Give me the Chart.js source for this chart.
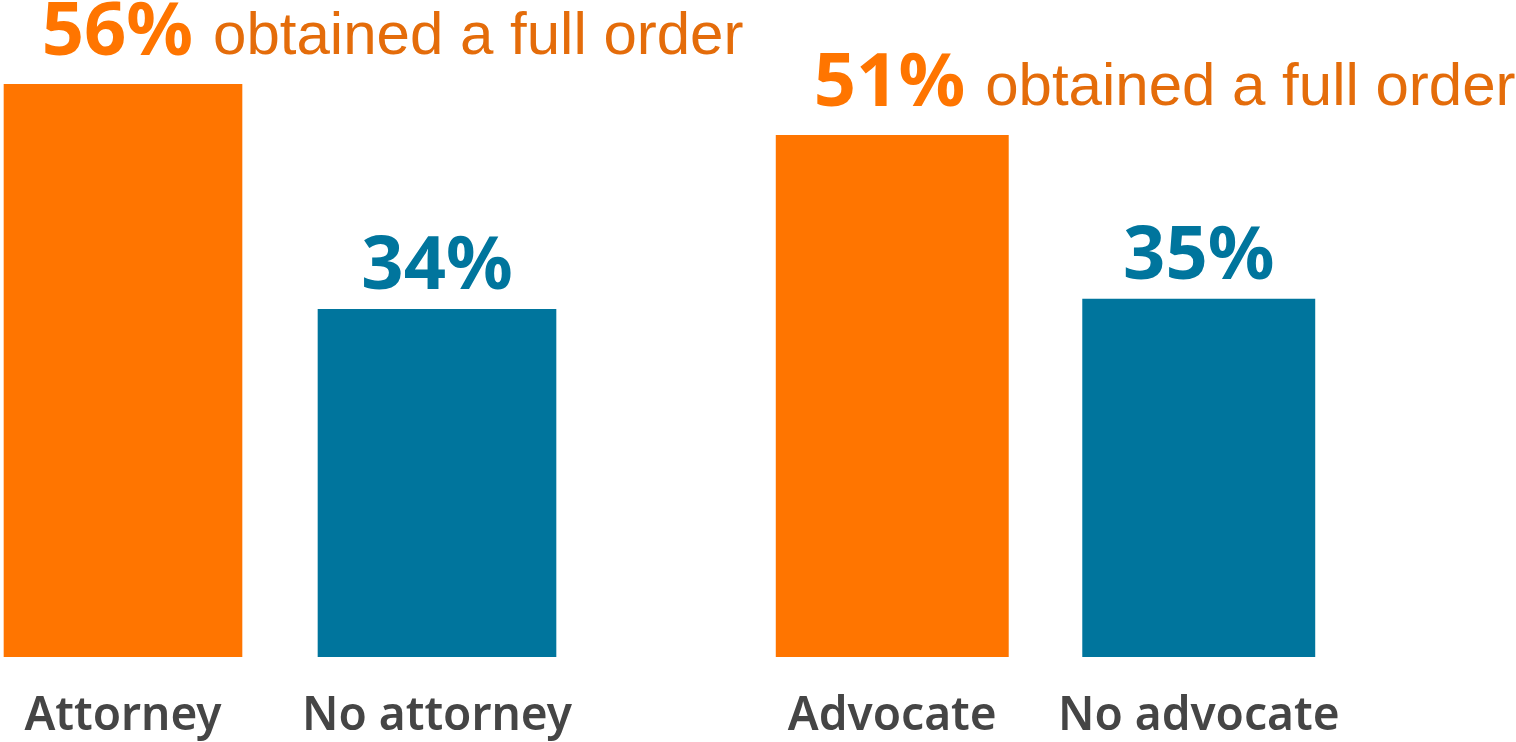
<!DOCTYPE html>
<html>
<head>
<meta charset="utf-8">
<script src="https://cdn.jsdelivr.net/npm/chart.js@4.4.1/dist/chart.umd.min.js"></script>
<style>
  html, body { margin: 0; padding: 0; background: #fff; overflow: hidden; }
  #wrap { position: relative; width: 1516px; height: 742px; overflow: hidden; }
  .panel { position: absolute; top: 0; }
  #left { left: -34px; }
  #right { left: 739px; }
</style>
</head>
<body>
<div id="wrap">
  <!-- canvases are a bit taller than the page so the baseline sits where the reference has it -->
  <div class="panel" id="left"><canvas id="chart0" width="800" height="777"></canvas></div>
  <div class="panel" id="right"><canvas id="chart1" width="777" height="777"></canvas></div>
</div>
<script>
// data
const attorneyLabels = ['Attorney', 'No attorney'];
const attorneyValues = [56, 34];
const advocateLabels = ['Advocate', 'No advocate'];
const advocateValues = [51, 35];
const noteText = 'obtained a full order';

const ORANGE = '#FF7500';
const NOTE_ORANGE = '#E46C0A';
const BLUE = '#00759D';
const GREY = '#454545';

// value labels on top of bars, first bar gets the long note
const valueLabels = {
    id: 'valueLabels',
    afterDatasetsDraw(chart) {
        const ctx = chart.ctx;
        const meta = chart.getDatasetMeta(0);
        const values = chart.data.datasets[0].data;
        ctx.save();
        ctx.textBaseline = 'alphabetic';
        meta.data.forEach((bar, i) => {
            const txt = values[i] + '%';
            ctx.font = 'bold 74px "Noto Sans"';
            if (i === 0) {
                const x0 = bar.x - bar.width / 2 + 38;
                const y0 = bar.y - 29;
                ctx.textAlign = 'left';
                ctx.fillStyle = ORANGE;
                ctx.fillText(txt, x0, y0);
                const w = ctx.measureText(txt).width;
                ctx.font = '60px "Liberation Sans"';
                ctx.fillStyle = NOTE_ORANGE;
                ctx.fillText(noteText, x0 + w + 20, y0 - 1);
            } else {
                ctx.textAlign = 'center';
                ctx.fillStyle = BLUE;
                ctx.fillText(txt, bar.x, bar.y - 20);
            }
        });
        ctx.restore();
    }
};

function makeChart(id, labels, values, padRight) {
    return new Chart(document.getElementById(id), {
        type: 'bar',
        data: {
            labels: labels,
            datasets: [{
                data: values,
                backgroundColor: [ORANGE, BLUE],
                barPercentage: 0.76,
                categoryPercentage: 1
            }]
        },
        options: {
            responsive: false,
            animation: false,
            devicePixelRatio: 1,
            layout: { padding: { top: 43, right: padRight, bottom: 0, left: 0 } },
            plugins: { legend: { display: false }, tooltip: { enabled: false } },
            scales: {
                x: {
                    grid: { display: false, drawTicks: false },
                    border: { display: false },
                    ticks: {
                        color: GREY,
                        padding: 37,
                        font: { family: '"Noto Sans"', size: 46, weight: 600, lineHeight: 1 }
                    }
                },
                y: { display: false, min: 0, max: 60 }
            }
        },
        plugins: [valueLabels]
    });
}

makeChart('chart0', attorneyLabels, attorneyValues, 172);
makeChart('chart1', advocateLabels, advocateValues, 164);
</script>
</body>
</html>
